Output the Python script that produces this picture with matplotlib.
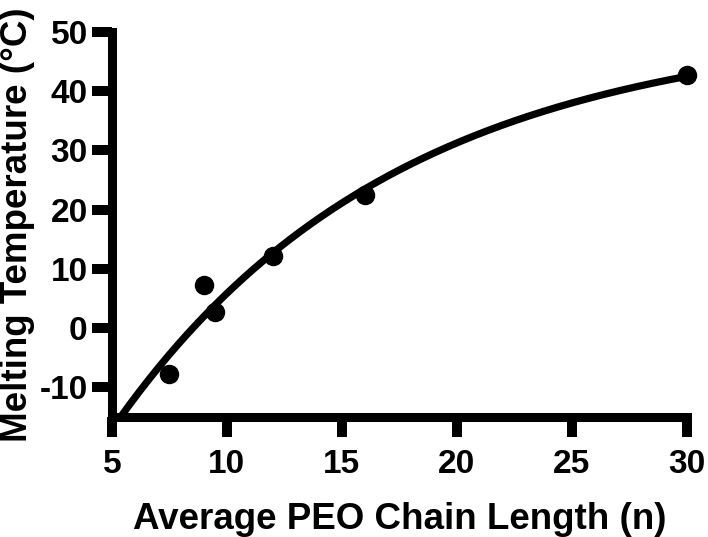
import numpy as np
import matplotlib
matplotlib.use("Agg")
import matplotlib.pyplot as plt

# Data
chain_length = [7.5, 9.0, 9.5, 12.0, 16.0, 30.0]
melting_temp = [-7.8, 7.2, 2.8, 12.1, 22.4, 42.7]

# One-phase exponential fit parameters
fit_plateau = 51.4
fit_amplitude = 103.0
fit_rate = 0.0816
fit_x_start = 5.38
fit_x_end = 30.0

x_ticks = [5, 10, 15, 20, 25, 30]
y_ticks = [-10, 0, 10, 20, 30, 40, 50]

plt.rcParams['font.family'] = ['Liberation Sans', 'DejaVu Sans']
plt.rcParams['font.weight'] = 'bold'
plt.rcParams['axes.unicode_minus'] = False

fig = plt.figure(figsize=(7.08, 5.37), dpi=100)
ax = fig.add_axes([0.158, 0.2235, 0.812, 0.717])

xf = np.linspace(fit_x_start, fit_x_end, 300)
yf = fit_plateau - fit_amplitude * np.exp(-fit_rate * xf)
ax.plot(xf, yf, color='black', lw=5.2, solid_capstyle='round', clip_on=False, zorder=3)
ax.plot(chain_length, melting_temp, 'o', color='black', ms=13, clip_on=False, zorder=4)

ax.set_xlim(5, 30)
ax.set_ylim(-15, 50)
ax.set_xticks(x_ticks)
ax.set_yticks(y_ticks)

for s in ['top', 'right']:
    ax.spines[s].set_visible(False)
for s in ['left', 'bottom']:
    ax.spines[s].set_linewidth(6.5)
    ax.spines[s].set_color('black')
    ax.spines[s].set_capstyle('projecting')

ax.tick_params(axis='both', which='major', length=14.4, width=7.2, color='black',
               labelsize=24)
ax.tick_params(axis='x', pad=8.5)
ax.tick_params(axis='y', pad=3)
for lab in ax.get_xticklabels() + ax.get_yticklabels():
    lab.set_fontweight('bold')

ax.set_xlabel('Average PEO Chain Length (n)', fontsize=26.5, fontweight='bold', labelpad=16)
ax.set_ylabel('Melting Temperature (°C)', fontsize=26.5, fontweight='bold', labelpad=3)

fig.savefig('out.png', dpi=100)
